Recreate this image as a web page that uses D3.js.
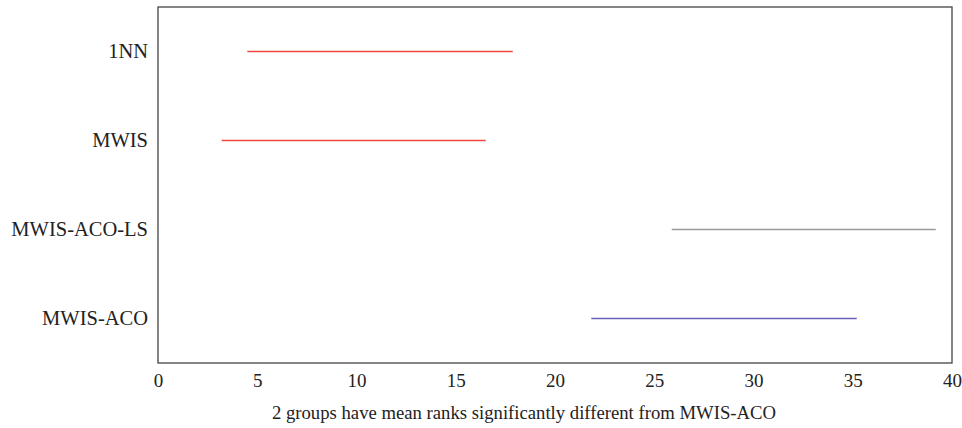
<!DOCTYPE html>
<html>
<head>
<meta charset="utf-8">
<script src="https://cdn.jsdelivr.net/npm/d3@7"></script>
<style>
  body { margin: 0; background: #fff; }
  svg text { font-family: "Liberation Serif", "Times New Roman", Times, "DejaVu Serif", serif; fill: #222; }
</style>
</head>
<body>
<div id="chart"></div>
<script>
// groups top to bottom, with comparison interval ends (mean rank)
var groups = ["1NN", "MWIS", "MWIS-ACO-LS", "MWIS-ACO"];
var lower = [4.50, 3.21, 25.88, 21.83];
var upper = [17.87, 16.51, 39.18, 35.20];
// "diff" = significantly different, "other" = not, "sel" = selected group
var groupStatus = ["diff", "diff", "other", "sel"];
var xTicks = [0, 5, 10, 15, 20, 25, 30, 35, 40];
var xLabel = "2 groups have mean ranks significantly different from MWIS-ACO";

var colors = {diff: "#f0463f", other: "#9a9a9a", sel: "#6a5fb8"};
var fontStack = '"Liberation Serif", "Times New Roman", Times, "DejaVu Serif", serif';

var margin = {top: 7, right: 10, bottom: 65, left: 158};
var width = 962 - margin.left - margin.right;
var height = 428 - margin.top - margin.bottom;

var svg = d3.select("#chart")
  .append("svg")
  .attr("width", 962)
  .attr("height", 428)
  .append("g")
  .attr("transform", "translate(" + margin.left + "," + margin.top + ")");

var xScale = d3.scaleLinear()
  .domain([0, 40])
  .range([0, width]);

var yScale = d3.scaleLinear()
  .domain([0.5, groups.length + 0.5])
  .range([0, height]);

var xAxis = d3.axisBottom(xScale)
  .tickValues(xTicks)
  .tickSize(0)
  .tickPadding(11);

var gx = svg.append("g")
  .attr("transform", "translate(0," + height + ")")
  .call(xAxis);
gx.attr("font-family", null);
gx.select(".domain").remove();
gx.selectAll("text")
  .style("font-size", "19px")
  .style("font-family", fontStack)
  .attr("fill", "#222");

var yAxis = d3.axisLeft(yScale)
  .tickValues(groups.map(function(d, i) { return i + 1; }))
  .tickFormat(function(d) { return groups[d - 1]; })
  .tickSize(0)
  .tickPadding(10);

var gy = svg.append("g").call(yAxis);
gy.attr("font-family", null);
gy.select(".domain").remove();
gy.selectAll("text")
  .attr("dy", "0.3em")
  .style("font-size", "20.5px")
  .style("font-family", fontStack)
  .attr("fill", "#222");

svg.selectAll(".ci")
  .data(groups)
  .enter()
  .append("line")
    .attr("class", "ci")
    .attr("x1", function(d, i) { return xScale(lower[i]); })
    .attr("x2", function(d, i) { return xScale(upper[i]); })
    .attr("y1", function(d, i) { return yScale(i + 1); })
    .attr("y2", function(d, i) { return yScale(i + 1); })
    .style("stroke", function(d, i) { return colors[groupStatus[i]]; })
    .style("stroke-width", 1.4);

// frame
svg.append("rect")
  .attr("x", 0)
  .attr("y", 0)
  .attr("width", width)
  .attr("height", height)
  .style("fill", "none")
  .style("stroke", "#444")
  .style("stroke-width", 1.3);

svg.append("text")
  .attr("x", width / 2 - 31)
  .attr("y", height + 56)
  .style("text-anchor", "middle")
  .style("font-size", "18.7px")
  .style("font-family", fontStack)
  .text(xLabel);
</script>
</body>
</html>
